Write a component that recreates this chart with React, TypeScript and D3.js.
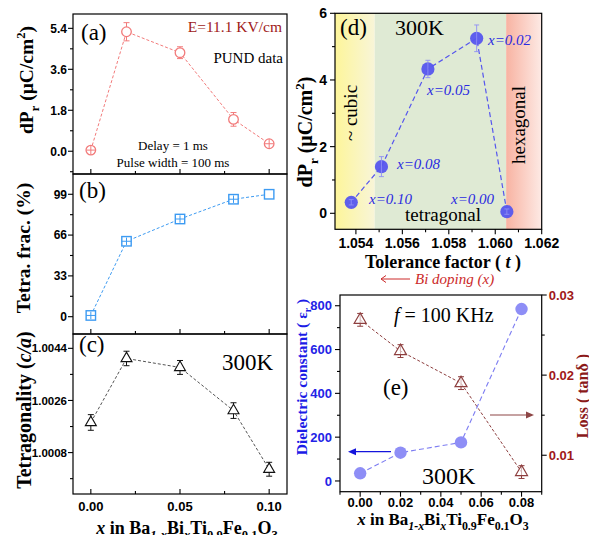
import React from "react";
import * as d3 from "d3";

// Bi content of the Ba(1-x)Bi(x)Ti0.9Fe0.1O3 series
const xDoping = [0, 0.02, 0.05, 0.08, 0.1];
// PUND remanent polarization (µC/cm²)
const dPr = [0.05, 5.25, 4.33, 1.4, 0.33];
const dPrErr = [0.08, 0.4, 0.26, 0.3, 0.08];
// Tetragonal phase fraction (%)
const tetraFrac = [1, 61, 79, 95, 99];
const tetraErr = [3, 3, 3, 3, 0];
// Lattice tetragonality c/a
const tetragonality = [1.00184, 1.00405, 1.00374, 1.00225, 1.000225];
const tetragonalityErr = [0.00027, 0.00025, 0.00024, 0.00027, 0.00024];
// Tolerance factor per composition (same order as xDoping)
const tolerance = [1.0605, 1.0592, 1.0571, 1.0551, 1.0538];
const doLabels = ["x=0.00", "x=0.02", "x=0.05", "x=0.08", "x=0.10"];
// Dielectric data at 100 kHz
const xDiel = [0, 0.02, 0.05, 0.08];
const dielectric = [35, 129, 176, 785];
const loss = [0.0269, 0.023, 0.019, 0.0079];
const lossErr = [0.0008, 0.0008, 0.0008, 0.0008];

const serif = "'Liberation Serif', 'Times New Roman', serif";
const sans = "'Liberation Sans', Arial, sans-serif";

const xs = d3.scaleLinear().domain([-0.01, 0.11]).range([73, 287]);
const ya = d3.scaleLinear().domain([-1.0, 6.03]).range([174, 14]);
const yb = d3.scaleLinear().domain([-14, 115.4]).range([334, 174]);
const yc = d3.scaleLinear().domain([0.99937, 1.004895]).range([494, 334]);
const xd = d3.scaleLinear().domain([1.0531, 1.062]).range([335, 541.7]);
const yd = d3.scaleLinear().domain([-0.48, 6]).range([229.3, 13.3]);
const xe = d3.scaleLinear().domain([-0.01, 0.09]).range([340, 541.7]);
const yeL = d3.scaleLinear().domain([-49, 849]).range([491.7, 295]);
const yeR = d3.scaleLinear().domain([0.00545, 0.03]).range([491.7, 295]);

type Scale = d3.ScaleLinear<number, number>;

function YTicks(props: {
  scale: Scale; x: number; majors: number[]; minors: number[]; dir: number;
  labels?: string[]; size: number; color?: string; gap?: number;
}) {
  const { scale, x, majors, minors, dir, labels, size, color = "#000", gap = 6 } = props;
  return (
    <g>
      {majors.map((v, i) => (
        <line key={"M" + i} x1={x} x2={x + dir * 5} y1={scale(v)} y2={scale(v)} stroke="#000" strokeWidth={1.1} />
      ))}
      {minors.map((v, i) => (
        <line key={"m" + i} x1={x} x2={x + dir * 3} y1={scale(v)} y2={scale(v)} stroke="#000" strokeWidth={1.1} />
      ))}
      {labels &&
        majors.map((v, i) => (
          <text key={"t" + i} x={x + dir * gap} y={scale(v)} dy="0.36em" textAnchor={dir < 0 ? "end" : "start"}
            fontFamily={sans} fontWeight="bold" fontSize={size} fill={color}>
            {labels[i]}
          </text>
        ))}
    </g>
  );
}

function XTicks(props: {
  scale: Scale; y: number; majors: number[]; minors: number[]; dir: number;
  labels?: string[]; size?: number; labelY?: number;
}) {
  const { scale, y, majors, minors, dir, labels, size = 13, labelY = 0 } = props;
  return (
    <g>
      {majors.map((v, i) => (
        <line key={"M" + i} x1={scale(v)} x2={scale(v)} y1={y} y2={y + dir * 5} stroke="#000" strokeWidth={1.1} />
      ))}
      {minors.map((v, i) => (
        <line key={"m" + i} x1={scale(v)} x2={scale(v)} y1={y} y2={y + dir * 3} stroke="#000" strokeWidth={1.1} />
      ))}
      {labels &&
        majors.map((v, i) => (
          <text key={"t" + i} x={scale(v)} y={labelY} textAnchor="middle" fontFamily={sans} fontWeight="bold" fontSize={size}>
            {labels[i]}
          </text>
        ))}
    </g>
  );
}

function ErrBar(props: { x: number; y0: number; y1: number; color: string; cap?: number; w?: number }) {
  const { x, y0, y1, color, cap = 3, w = 1 } = props;
  return (
    <g stroke={color} strokeWidth={w}>
      <line x1={x} x2={x} y1={y0} y2={y1} />
      <line x1={x - cap} x2={x + cap} y1={y0} y2={y0} />
      <line x1={x - cap} x2={x + cap} y1={y1} y2={y1} />
    </g>
  );
}

function triPath(cx: number, cy: number, s: number) {
  const h = (s * Math.sqrt(3)) / 2;
  return `M${cx},${cy - (2 * h) / 3}L${cx + s / 2},${cy + h / 3}L${cx - s / 2},${cy + h / 3}Z`;
}

function Frame({ x0, x1, y0, y1 }: { x0: number; x1: number; y0: number; y1: number }) {
  return <rect x={x0} y={y0} width={x1 - x0} height={y1 - y0} fill="none" stroke="#000" strokeWidth={1.2} />;
}

function XLabel({ x, y, size }: { x: number; y: number; size: number }) {
  const sub = size * 0.7;
  const d = size * 0.3;
  return (
    <text x={x} y={y} textAnchor="middle" fontFamily={serif} fontWeight="bold" fontSize={size}>
      <tspan fontStyle="italic">x</tspan>
      <tspan> in Ba</tspan>
      <tspan fontStyle="italic" fontSize={sub} dy={d}>1-x</tspan>
      <tspan dy={-d}>Bi</tspan>
      <tspan fontStyle="italic" fontSize={sub} dy={d}>x</tspan>
      <tspan dy={-d}>Ti</tspan>
      <tspan fontSize={sub} dy={d}>0.9</tspan>
      <tspan dy={-d}>Fe</tspan>
      <tspan fontSize={sub} dy={d}>0.1</tspan>
      <tspan dy={-d}>O</tspan>
      <tspan fontSize={sub} dy={d}>3</tspan>
    </text>
  );
}

function DPrLabel({ x, y, size }: { x: number; y: number; size: number }) {
  const sub = size * 0.65;
  return (
    <text transform={`translate(${x},${y}) rotate(-90)`} textAnchor="middle" fontFamily={serif} fontWeight="bold" fontSize={size}>
      <tspan>dP</tspan>
      <tspan fontSize={sub} dy={size * 0.3}>r</tspan>
      <tspan dy={-size * 0.3}> (μC/cm</tspan>
      <tspan fontSize={sub} dy={-size * 0.4}>2</tspan>
      <tspan dy={size * 0.4}>)</tspan>
    </text>
  );
}

function line(xv: number[], yv: number[], sx: Scale, sy: Scale) {
  return d3.line<number>().x((_, i) => sx(xv[i])).y((v) => sy(v))(yv) || "";
}

export default function App() {
  const leftMajX = [0, 0.05, 0.1];
  const leftMinX = [0.025, 0.075];
  const redA = "#f27b7b";
  const blueB = "#3d9bf2";
  const blueD = "#5656ee";
  const brown = "#8e3f3f";

  return (
    <svg width={589} height={535} style={{ position: "absolute", left: 0, top: 0, background: "#fff" }}>
      <defs>
        <linearGradient id="cubicBg" x1="0" x2="1" y1="0" y2="0">
          <stop offset="0" stopColor="#fdf59a" />
          <stop offset="1" stopColor="#f8f5d8" />
        </linearGradient>
        <linearGradient id="hexBg" x1="0" x2="1" y1="0" y2="0">
          <stop offset="0" stopColor="#f8b3a2" />
          <stop offset="1" stopColor="#fdeae5" />
        </linearGradient>
      </defs>

      {/* ---------- (a) remanent polarization ---------- */}
      <path d={line(xDoping, dPr, xs, ya)} fill="none" stroke={redA} strokeWidth={1} strokeDasharray="3,2" />
      {xDoping.map((xv, i) => (
        <g key={"a" + i}>
          <ErrBar x={xs(xv)} y0={ya(dPr[i] + dPrErr[i])} y1={ya(dPr[i] - dPrErr[i])} color={redA} />
          <circle cx={xs(xv)} cy={ya(dPr[i])} r={4.8} fill="#fff" stroke={redA} strokeWidth={1.3} />
          {dPrErr[i] < 0.2 && (
            <g stroke={redA} strokeWidth={1}>
              <line x1={xs(xv) - 4.5} x2={xs(xv) + 4.5} y1={ya(dPr[i])} y2={ya(dPr[i])} />
              <line x1={xs(xv)} x2={xs(xv)} y1={ya(dPr[i]) - 4.5} y2={ya(dPr[i]) + 4.5} />
            </g>
          )}
        </g>
      ))}
      <Frame x0={73} x1={287} y0={14} y1={174} />
      <YTicks scale={ya} x={73} majors={[0, 1.8, 3.6, 5.4]} minors={[-0.9, 0.9, 2.7, 4.5]} dir={-1}
        labels={["0.0", "1.8", "3.6", "5.4"]} size={12} />
      <XTicks scale={xs} y={174} majors={leftMajX} minors={leftMinX} dir={-1} />
      <text x={81} y={40} fontFamily={serif} fontSize={23}>(a)</text>
      <text x={282} y={32} textAnchor="end" fontFamily={serif} fontSize={15.5} fill="#a01a1a">E=11.1 KV/cm</text>
      <text x={283} y={63} textAnchor="end" fontFamily={serif} fontSize={15}>PUND data</text>
      <text x={173} y={150} textAnchor="middle" fontFamily={serif} fontSize={13}>Delay = 1 ms</text>
      <text x={173} y={166.5} textAnchor="middle" fontFamily={serif} fontSize={13}>Pulse width = 100 ms</text>
      <DPrLabel x={33} y={80} size={19.5} />

      {/* ---------- (b) tetragonal fraction ---------- */}
      <path d={line(xDoping, tetraFrac, xs, yb)} fill="none" stroke={blueB} strokeWidth={1} strokeDasharray="3,2" />
      {xDoping.map((xv, i) => (
        <g key={"b" + i}>
          <rect x={xs(xv) - 4.7} y={yb(tetraFrac[i]) - 4.7} width={9.4} height={9.4} fill="#fff" stroke={blueB} strokeWidth={1.4} />
          {tetraErr[i] > 0 && (
            <g stroke={blueB} strokeWidth={1}>
              <line x1={xs(xv) - 4.7} x2={xs(xv) + 4.7} y1={yb(tetraFrac[i])} y2={yb(tetraFrac[i])} />
              <line x1={xs(xv)} x2={xs(xv)} y1={yb(tetraFrac[i] + tetraErr[i])} y2={yb(tetraFrac[i] - tetraErr[i])} />
            </g>
          )}
        </g>
      ))}
      <Frame x0={73} x1={287} y0={174} y1={334} />
      <YTicks scale={yb} x={73} majors={[0, 33, 66, 99]} minors={[16.5, 49.5, 82.5]} dir={-1}
        labels={["0", "33", "66", "99"]} size={12} />
      <XTicks scale={xs} y={334} majors={leftMajX} minors={leftMinX} dir={-1} />
      <text x={79} y={198} fontFamily={serif} fontSize={23}>(b)</text>
      <text transform="translate(30,248) rotate(-90)" textAnchor="middle" fontFamily={serif} fontWeight="bold" fontSize={19.5}>
        Tetra. frac. (%)
      </text>

      {/* ---------- (c) tetragonality ---------- */}
      <path d={line(xDoping, tetragonality, xs, yc)} fill="none" stroke="#555" strokeWidth={1} strokeDasharray="3,2" />
      {xDoping.map((xv, i) => (
        <g key={"c" + i}>
          <ErrBar x={xs(xv)} y0={yc(tetragonality[i] + tetragonalityErr[i])} y1={yc(tetragonality[i] - tetragonalityErr[i])} color="#111" />
          <path d={triPath(xs(xv), yc(tetragonality[i]), 11)} fill="#fff" stroke="#111" strokeWidth={1.1} />
        </g>
      ))}
      <Frame x0={73} x1={287} y0={334} y1={494} />
      <YTicks scale={yc} x={73} majors={[1.0008, 1.0026, 1.0044]} minors={[0.9999, 1.0017, 1.0035]} dir={-1}
        labels={["1.0008", "1.0026", "1.0044"]} size={11.5} />
      <XTicks scale={xs} y={494} majors={leftMajX} minors={leftMinX} dir={-1}
        labels={["0.00", "0.05", "0.10"]} size={13} labelY={511} />
      <text x={79} y={352} fontFamily={serif} fontSize={23}>(c)</text>
      <text x={273} y={370} textAnchor="end" fontFamily={serif} fontSize={23}>300K</text>
      <text transform="translate(31,410) rotate(-90)" textAnchor="middle" fontFamily={serif} fontWeight="bold" fontSize={20}>
        <tspan>Tetragonality (</tspan>
        <tspan fontStyle="italic">c/a</tspan>
        <tspan>)</tspan>
      </text>
      <XLabel x={187} y={534} size={18} />

      {/* ---------- (d) dPr vs tolerance factor ---------- */}
      <rect x={xd(1.0531)} y={yd(6)} width={xd(1.05481) - xd(1.0531)} height={yd(-0.48) - yd(6)} fill="url(#cubicBg)" />
      <rect x={xd(1.05481)} y={yd(6)} width={xd(1.06047) - xd(1.05481)} height={yd(-0.48) - yd(6)} fill="#dfead4" />
      <rect x={xd(1.06047)} y={yd(6)} width={xd(1.062) - xd(1.06047)} height={yd(-0.48) - yd(6)} fill="url(#hexBg)" />
      <path d={line(tolerance, dPr, xd, yd)} fill="none" stroke={blueD} strokeWidth={1.2} strokeDasharray="5,3" />
      {tolerance.map((t, i) => (
        <g key={"d" + i}>
          <circle cx={xd(t)} cy={yd(dPr[i])} r={6.6} fill={blueD} fillOpacity={0.95} />
          <ErrBar x={xd(t)} y0={yd(dPr[i] + dPrErr[i])} y1={yd(dPr[i] - dPrErr[i])} color="#8f8ff5" cap={2.5} w={0.9} />
        </g>
      ))}
      <g fontFamily={serif} fontStyle="italic" fontSize={15} fill="#2b2be0">
        <text x={451} y={204}>{doLabels[0]}</text>
        <text x={488} y={45}>{doLabels[1]}</text>
        <text x={427} y={95}>{doLabels[2]}</text>
        <text x={397} y={169}>{doLabels[3]}</text>
        <text x={369} y={204}>{doLabels[4]}</text>
      </g>
      <Frame x0={335} x1={541.7} y0={13.3} y1={229.3} />
      <YTicks scale={yd} x={335} majors={[0, 2, 4, 6]} minors={[1, 3, 5]} dir={-1}
        labels={["0", "2", "4", "6"]} size={14} gap={8} />
      <XTicks scale={xd} y={229.3} majors={[1.054, 1.056, 1.058, 1.06, 1.062]} minors={[1.055, 1.057, 1.059, 1.061]} dir={1}
        labels={["1.054", "1.056", "1.058", "1.060", "1.062"]} size={14} labelY={248} />
      <text x={340} y={35} fontFamily={serif} fontSize={23}>(d)</text>
      <text x={395} y={35} fontFamily={serif} fontSize={22}>300K</text>
      <text x={443} y={221} textAnchor="middle" fontFamily={serif} fontSize={19}>tetragonal</text>
      <text transform="translate(357,113) rotate(-90)" textAnchor="middle" fontFamily={serif} fontSize={19}>~ cubic</text>
      <text transform="translate(525,125) rotate(-90)" textAnchor="middle" fontFamily={serif} fontSize={19}>hexagonal</text>
      <DPrLabel x={312} y={132} size={20} />
      <text x={443} y={268} textAnchor="middle" fontFamily={serif} fontWeight="bold" fontSize={18}>
        <tspan>Tolerance factor ( </tspan>
        <tspan fontStyle="italic">t</tspan>
        <tspan> )</tspan>
      </text>
      <g stroke="#cc2a2a" strokeWidth={1} fill="none">
        <line x1={381} x2={410} y1={279} y2={279} />
        <path d="M386,275.5L381,279L386,282.5" />
      </g>
      <text x={415} y={284} fontFamily={serif} fontStyle="italic" fontSize={15} fill="#cc2a2a">Bi doping (x)</text>

      {/* ---------- (e) dielectric constant and loss ---------- */}
      <path d={line(xDiel, loss, xe, yeR)} fill="none" stroke={brown} strokeWidth={1} strokeDasharray="3,2" />
      <path d={line(xDiel, dielectric, xe, yeL)} fill="none" stroke="#7d7df2" strokeWidth={1.1} strokeDasharray="5,3" />
      {xDiel.map((xv, i) => (
        <circle key={"ed" + i} cx={xe(xv)} cy={yeL(dielectric[i])} r={6.2} fill="#8e8ef6" />
      ))}
      {xDiel.map((xv, i) => (
        <g key={"el" + i}>
          <ErrBar x={xe(xv)} y0={yeR(loss[i] + lossErr[i])} y1={yeR(loss[i] - lossErr[i])} color={brown} />
          <path d={triPath(xe(xv), yeR(loss[i]), 12)} fill="#fff" fillOpacity={0.6} stroke={brown} strokeWidth={1.2} />
        </g>
      ))}
      <Frame x0={340} x1={541.7} y0={295} y1={491.7} />
      <YTicks scale={yeL} x={340} majors={[0, 200, 400, 600, 800]} minors={[100, 300, 500, 700]} dir={-1}
        labels={["0", "200", "400", "600", "800"]} size={13} color="#2323e6" gap={8} />
      <YTicks scale={yeR} x={541.7} majors={[0.01, 0.02, 0.03]} minors={[0.015, 0.025]} dir={1}
        labels={["0.01", "0.02", "0.03"]} size={13} color="#a01818" gap={7} />
      <XTicks scale={xe} y={491.7} majors={[0, 0.02, 0.04, 0.06, 0.08]} minors={[-0.01, 0.01, 0.03, 0.05, 0.07, 0.09]} dir={1}
        labels={["0.00", "0.02", "0.04", "0.06", "0.08"]} size={13} labelY={507} />
      <text x={394} y={322} fontFamily={serif} fontSize={20}>
        <tspan fontStyle="italic">f</tspan>
        <tspan> = 100 KHz</tspan>
      </text>
      <text x={383} y={395} fontFamily={serif} fontSize={23}>(e)</text>
      <text x={422} y={484} fontFamily={serif} fontSize={24}>300K</text>
      <g stroke="#1414dc" strokeWidth={1.2} fill="#1414dc">
        <line x1={391} x2={354} y1={451.7} y2={451.7} />
        <path d="M348,451.7L356,448.2L356,455.2Z" stroke="none" />
      </g>
      <g stroke="#8e4646" strokeWidth={1.2} fill="#8e4646">
        <line x1={490} x2={528} y1={415} y2={415} />
        <path d="M534,415L526,411.5L526,418.5Z" stroke="none" />
      </g>
      <text transform="translate(307,377) rotate(-90)" textAnchor="middle" fontFamily={serif} fontWeight="bold" fontSize={15.5} fill="#1c1ce6">
        <tspan>Dielectric constant ( ε</tspan>
        <tspan fontSize={10} dy={4}>r</tspan>
        <tspan dy={-4}> )</tspan>
      </text>
      <text transform="translate(588,396) rotate(-90)" textAnchor="middle" fontFamily={serif} fontWeight="bold" fontSize={16} fill="#8b1a1a">
        Loss ( tanδ )
      </text>
      <XLabel x={443} y={525} size={17} />
    </svg>
  );
}
